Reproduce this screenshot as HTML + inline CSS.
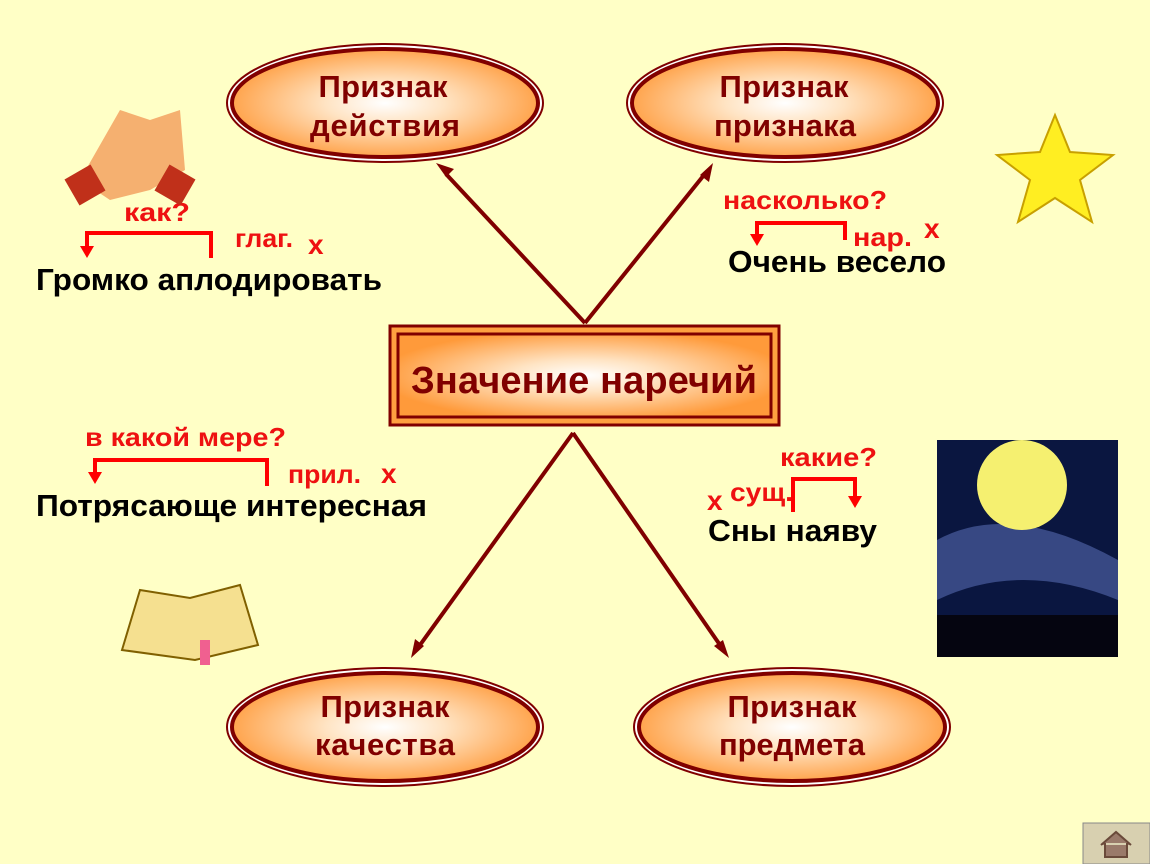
<!DOCTYPE html>
<html><head><meta charset="utf-8"><style>
html,body{margin:0;padding:0;background:#FFFFC6;}
svg{display:block;font-family:"Liberation Sans",sans-serif;font-weight:bold;}
</style></head><body>
<svg width="1150" height="864" viewBox="0 0 1150 864">
<defs>
<radialGradient id="g" cx="50%" cy="50%" r="55%"><stop offset="0" stop-color="#fff"/><stop offset="0.35" stop-color="#FFE4C4"/><stop offset="1" stop-color="#FF9A3A"/></radialGradient>
</defs>
<rect width="1150" height="864" fill="#FFFFC6"/>
<g stroke="#800000" stroke-width="4" fill="none">
<line x1="585" y1="323" x2="446" y2="174"/><path d="M436,163 l18,6 -8,8z" fill="#800000" stroke="none"/>
<line x1="585" y1="323" x2="704" y2="175"/><path d="M713,163 l-4,19 -9,-7z" fill="#800000" stroke="none"/>
<line x1="573" y1="433" x2="420" y2="645"/><path d="M411,658 l4,-19 9,7z" fill="#800000" stroke="none"/>
<line x1="573" y1="433" x2="720" y2="645"/><path d="M729,658 l-15,-12 9,-6z" fill="#800000" stroke="none"/>
</g>
<g>
<g transform="translate(385,103)"><ellipse rx="158" ry="59" fill="#fff" stroke="#800000" stroke-width="2"/><ellipse rx="153" ry="54" fill="url(#g)" stroke="#800000" stroke-width="4"/></g>
<g transform="translate(785,103)"><ellipse rx="158" ry="59" fill="#fff" stroke="#800000" stroke-width="2"/><ellipse rx="153" ry="54" fill="url(#g)" stroke="#800000" stroke-width="4"/></g>
<g transform="translate(385,727)"><ellipse rx="158" ry="59" fill="#fff" stroke="#800000" stroke-width="2"/><ellipse rx="153" ry="54" fill="url(#g)" stroke="#800000" stroke-width="4"/></g>
<g transform="translate(792,727)"><ellipse rx="158" ry="59" fill="#fff" stroke="#800000" stroke-width="2"/><ellipse rx="153" ry="54" fill="url(#g)" stroke="#800000" stroke-width="4"/></g>
</g>
<rect x="390" y="326" width="389" height="99" fill="#FFA040" stroke="#800000" stroke-width="3"/>
<rect x="398" y="334" width="373" height="83" fill="url(#g)" stroke="#800000" stroke-width="3"/>
<g fill="#800000" font-size="31" text-anchor="middle" lengthAdjust="spacingAndGlyphs">
<text x="383" y="97" textLength="129">Признак</text><text x="385" y="136" textLength="150">действия</text>
<text x="784" y="97" textLength="129">Признак</text><text x="785" y="136" textLength="142">признака</text>
<text x="385" y="717" textLength="129">Признак</text><text x="385" y="755" textLength="140">качества</text>
<text x="792" y="717" textLength="129">Признак</text><text x="792" y="755" textLength="146">предмета</text>
<text x="584" y="393" font-size="38" textLength="346">Значение наречий</text>
</g>
<g fill="#000" font-size="31">
<text x="36" y="290" textLength="346" lengthAdjust="spacingAndGlyphs">Громко аплодировать</text>
<text x="728" y="272" textLength="218" lengthAdjust="spacingAndGlyphs">Очень весело</text>
<text x="36" y="516" textLength="391" lengthAdjust="spacingAndGlyphs">Потрясающе интересная</text>
<text x="708" y="541" textLength="169" lengthAdjust="spacingAndGlyphs">Сны наяву</text>
</g>
<g fill="#EE1111" font-size="26">
<text x="124" y="221" textLength="66" lengthAdjust="spacingAndGlyphs">как?</text>
<text x="235" y="247" textLength="58" lengthAdjust="spacingAndGlyphs">глаг.</text>
<text x="308" y="254" font-size="28">х</text>
<text x="723" y="209" textLength="164" lengthAdjust="spacingAndGlyphs">насколько?</text>
<text x="853" y="246" textLength="59" lengthAdjust="spacingAndGlyphs">нар.</text>
<text x="924" y="238" font-size="28">х</text>
<text x="85" y="446" textLength="201" lengthAdjust="spacingAndGlyphs">в какой мере?</text>
<text x="288" y="483" textLength="73" lengthAdjust="spacingAndGlyphs">прил.</text>
<text x="381" y="483" font-size="28">х</text>
<text x="780" y="466" textLength="97" lengthAdjust="spacingAndGlyphs">какие?</text>
<text x="730" y="501" textLength="63" lengthAdjust="spacingAndGlyphs">сущ.</text>
<text x="707" y="510" font-size="28">х</text>
</g>
<g stroke="#f00" stroke-width="4" fill="none">
<path d="M211,258 V233 H87 V248"/><path d="M80,246 h14 l-7,12z" fill="#f00" stroke="none"/>
<path d="M845,240 V223 H757 V236"/><path d="M750,234 h14 l-7,12z" fill="#f00" stroke="none"/>
<path d="M267,486 V460 H95 V474"/><path d="M88,472 h14 l-7,12z" fill="#f00" stroke="none"/>
<path d="M793,512 V479 H855 V498"/><path d="M848,496 h14 l-7,12z" fill="#f00" stroke="none"/>
</g>
<g><path d="M80,180 L120,110 L150,120 L180,110 L185,170 L150,190 L110,200z" fill="#F5B070"/><rect x="70" y="170" width="30" height="30" fill="#C0301A" transform="rotate(-30 85 185)"/><rect x="160" y="170" width="30" height="30" fill="#C0301A" transform="rotate(30 175 185)"/></g>
<polygon points="1055,115 1070,152 1113,155 1080,180 1092,222 1055,198 1018,222 1030,180 997,155 1040,152" fill="#FFEE22" stroke="#C8A000" stroke-width="2"/>
<rect x="937" y="440" width="181" height="217" fill="#0A1640"/>
<path d="M937,540 Q1010,500 1118,560 V600 Q1020,560 937,600z" fill="#4A5EA0" opacity="0.7"/>
<circle cx="1022" cy="485" r="45" fill="#F5F070"/>
<rect x="937" y="615" width="181" height="42" fill="#050510"/>
<path d="M122,650 L140,590 L190,598 L240,585 L258,645 L195,660z" fill="#F5E090" stroke="#806000" stroke-width="2"/>
<rect x="200" y="640" width="10" height="25" fill="#F06090"/>
<rect x="1083" y="823" width="67" height="41" fill="#D8D0B0" stroke="#888" stroke-width="1"/>
<path d="M1101,845 l15,-13 15,13 M1105,843 v14 h22 v-14" fill="#9a7a6a" stroke="#6a4a3a" stroke-width="2"/>
</svg>
</body></html>
